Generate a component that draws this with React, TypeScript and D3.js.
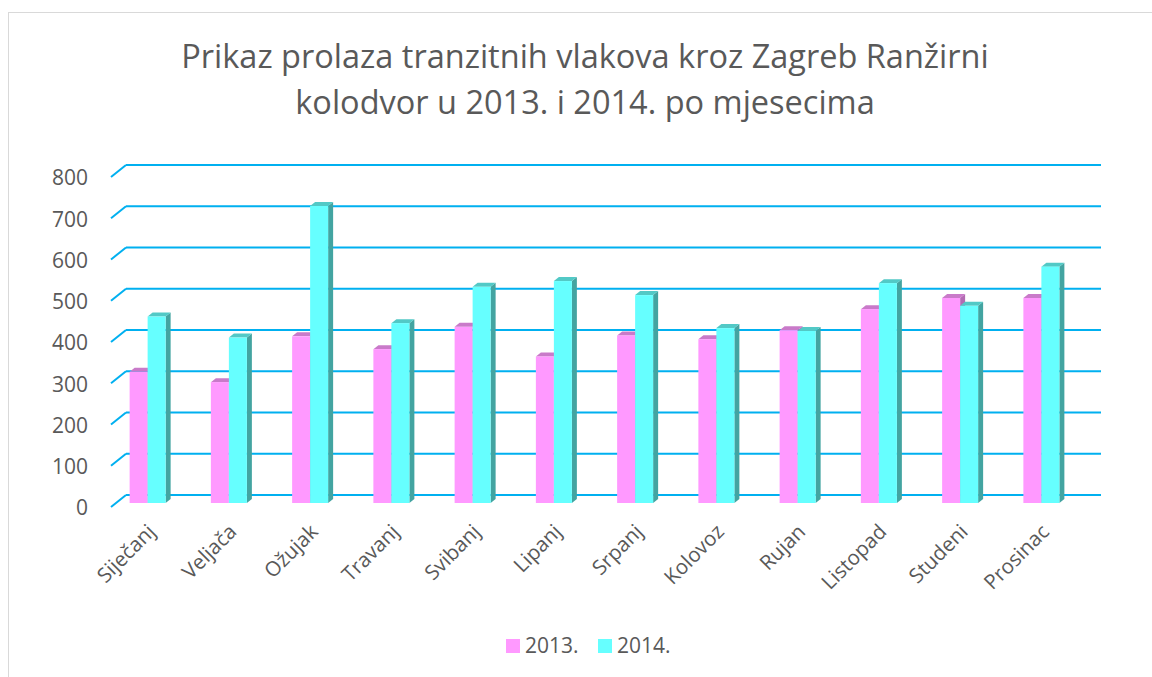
import React from "react";
import * as d3 from "d3";

const months = ["Siječanj", "Veljača", "Ožujak", "Travanj", "Svibanj", "Lipanj", "Srpanj", "Kolovoz", "Rujan", "Listopad", "Studeni", "Prosinac"];
const values2013 = [318, 293, 404, 373, 427, 355, 406, 397, 419, 470, 497, 497];
const values2014 = [452, 401, 720, 436, 524, 538, 504, 424, 417, 533, 478, 573];
const yTicks = [0, 100, 200, 300, 400, 500, 600, 700, 800];
const seriesNames = ["2013.", "2014."];
const titleLines = ["Prikaz prolaza tranzitnih vlakova kroz Zagreb Ranžirni", "kolodvor u 2013. i 2014. po mjesecima"];

const W = 1152;
const H = 677;
const FONT = "'Open Sans', 'DejaVu Sans', sans-serif";
const TEXT = "#595959";
const GRID = "#00B0F0";

const series = [
  { name: seriesNames[0], values: values2013, front: "#FF99FF", top: "#C97AC9", side: "#B36BB3" },
  { name: seriesNames[1], values: values2014, front: "#66FFFF", top: "#52C9C6", side: "#43A4A1" },
];

// 3D projection offsets
const DEPTH_DX = 15, DEPTH_DY = 12; // wall depth
const BAR_DX = 5, BAR_DY = 4; // bar depth

export default function App() {
  const x = d3.scaleBand<string>().domain(months).range([107, 1082]).paddingInner(0).paddingOuter(0);
  const yBack = d3.scaleLinear().domain([0, 800]).range([495, 165]);
  const yFront = d3.scaleLinear().domain([0, 800]).range([503, 173]);
  const backLeft = 126, backRight = 1101;
  const barW = 18;

  return (
    <svg width={W} height={H} style={{ position: "absolute", left: 0, top: 0, display: "block", background: "#fff" }} fontFamily={FONT}>
      <rect x={8.5} y={12.5} width={1150} height={700} fill="#fff" stroke="#D9D9D9" strokeWidth={1} />
      {/* title */}
      {titleLines.map((t, i) => (
        <text key={i} x={585} y={68 + i * 46} textAnchor="middle" fontSize={32.5} fill={TEXT}>{t}</text>
      ))}
      {/* gridlines */}
      {yTicks.map((t) => {
        const yb = yBack(t);
        return (
          <g key={t}>
            <line x1={backLeft} x2={backRight} y1={yb} y2={yb} stroke={GRID} strokeWidth={2} />
            <line x1={backLeft - DEPTH_DX} x2={backLeft} y1={yb + DEPTH_DY} y2={yb} stroke={GRID} strokeWidth={2} />
            <text x={88} y={yb + 13} dy="0.35em" textAnchor="end" fontSize={21} fill={TEXT}>{t}</text>
          </g>
        );
      })}
      {/* bars */}
      {months.map((m, i) => {
        const cx = (x(m) as number) + x.bandwidth() / 2;
        const left = cx - barW;
        return (
          <g key={m}>
            {series.map((s, si) => {
              const x0 = left + si * barW;
              const x1 = x0 + barW;
              const yt = yFront(s.values[i]);
              const yb = yFront(0);
              const topPts = `${x0},${yt} ${x1},${yt} ${x1 + BAR_DX},${yt - BAR_DY} ${x0 + BAR_DX},${yt - BAR_DY}`;
              const sidePts = `${x1},${yt} ${x1 + BAR_DX},${yt - BAR_DY} ${x1 + BAR_DX},${yb - BAR_DY} ${x1},${yb}`;
              return (
                <g key={s.name}>
                  <polygon points={sidePts} fill={s.side} />
                  <polygon points={topPts} fill={s.top} />
                  <rect x={x0} y={yt} width={barW} height={yb - yt} fill={s.front} />
                </g>
              );
            })}
          </g>
        );
      })}
      {/* x labels */}
      {months.map((m) => {
        const cx = (x(m) as number) + x.bandwidth() / 2;
        const px = cx + 9, py = 533;
        return (
          <text key={m} x={px} y={py} textAnchor="end" fontSize={20.5} fill={TEXT} transform={`rotate(-45 ${px} ${py})`}>{m}</text>
        );
      })}
      {/* legend */}
      {series.map((s, i) => {
        const lx = 506 + i * 92;
        return (
          <g key={s.name}>
            <rect x={lx} y={639} width={14} height={14} fill={s.front} />
            <text x={lx + 19} y={653} fontSize={21} fill={TEXT}>{s.name}</text>
          </g>
        );
      })}
    </svg>
  );
}
